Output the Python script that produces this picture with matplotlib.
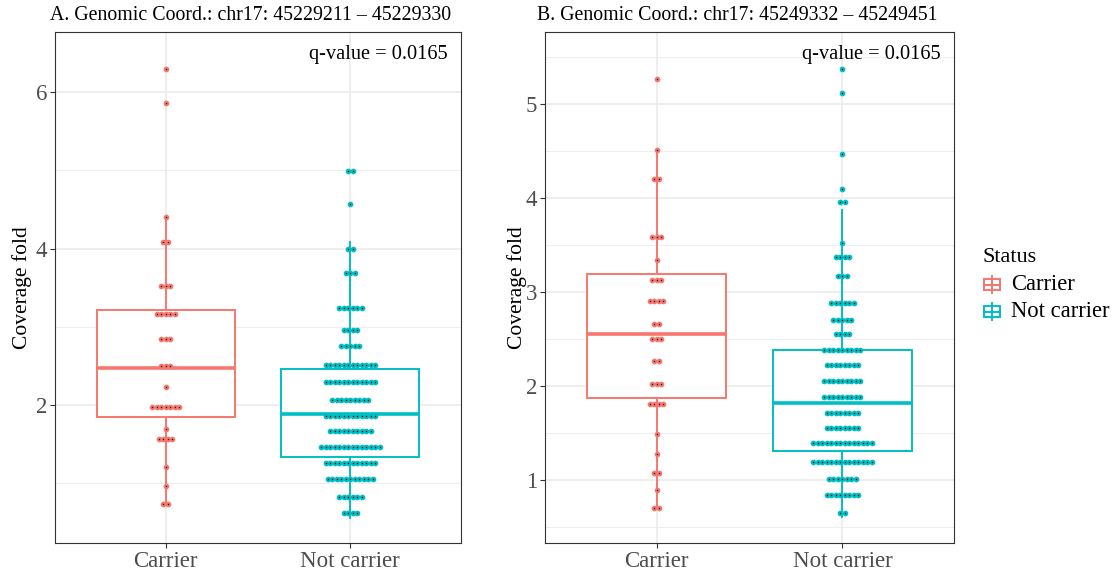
import numpy as np
import matplotlib
matplotlib.use("Agg")
import matplotlib.pyplot as plt
from matplotlib.patches import Rectangle

W, H = 1115, 572
DPI = 100
plt.rcParams['font.family'] = ['Liberation Serif', 'DejaVu Serif']

categories = ["Carrier", "Not carrier"]
colors = ["#F8766D", "#00BFC4"]
titles = ["A. Genomic Coord.: chr17: 45229211 \u2013 45229330",
          "B. Genomic Coord.: chr17: 45249332 \u2013 45249451"]
qvalues = ["q-value = 0.0165", "q-value = 0.0165"]

# Panel A dot rows (bin value, number of dots)
a_carrier_vals = [6.30, 5.86, 4.41, 4.08, 3.52, 3.17, 2.85, 2.50, 2.23, 1.97, 1.69, 1.56, 1.21, 0.97, 0.73]
a_carrier_counts = [1, 1, 1, 2, 3, 5, 3, 3, 1, 7, 1, 4, 1, 1, 2]
a_not_vals = [4.99, 4.57, 4.00, 3.69, 3.24, 2.96, 2.75, 2.51, 2.30, 2.06, 1.86, 1.67, 1.46, 1.26, 1.06, 0.83, 0.62]
a_not_counts = [2, 1, 2, 3, 6, 4, 5, 12, 12, 9, 12, 10, 14, 12, 11, 6, 4]

# Panel B dot rows
b_carrier_vals = [5.27, 4.51, 4.20, 3.59, 3.34, 3.13, 2.91, 2.66, 2.50, 2.27, 2.02, 1.81, 1.49, 1.28, 1.08, 0.89, 0.70]
b_carrier_counts = [1, 1, 2, 3, 1, 3, 4, 2, 3, 2, 3, 4, 1, 1, 2, 1, 2]
b_not_vals = [5.38, 5.12, 4.47, 4.10, 3.96, 3.52, 3.37, 3.17, 2.88, 2.70, 2.55, 2.38, 2.22, 2.05, 1.88,
              1.71, 1.55, 1.39, 1.19, 1.01, 0.84, 0.65]
b_not_counts = [1, 1, 1, 1, 2, 1, 4, 3, 6, 5, 4, 9, 8, 9, 9, 8, 8, 14, 14, 7, 8, 2]

# Box statistics: lower whisker, Q1, median, Q3, upper whisker
a_carrier_box = [0.73, 1.85, 2.47, 3.21, 4.41]
a_not_box = [0.56, 1.34, 1.88, 2.46, 4.08]
b_carrier_box = [0.70, 1.87, 2.55, 3.19, 4.51]
b_not_box = [0.61, 1.31, 1.82, 2.38, 3.88]

a_yticks = [2, 4, 6]
b_yticks = [1, 2, 3, 4, 5]

panels = [
    dict(rect=(55, 32, 461, 543), ylim=(0.236, 6.77), yticks=a_yticks,
         dots=[(a_carrier_vals, a_carrier_counts), (a_not_vals, a_not_counts)],
         boxes=[a_carrier_box, a_not_box], title=titles[0], q=qvalues[0],
         title_x=50, ylab_x=22),
    dict(rect=(545, 32, 954, 543), ylim=(0.33, 5.77), yticks=b_yticks,
         dots=[(b_carrier_vals, b_carrier_counts), (b_not_vals, b_not_counts)],
         boxes=[b_carrier_box, b_not_box], title=titles[1], q=qvalues[1],
         title_x=537, ylab_x=517),
]

fig = plt.figure(figsize=(W / DPI, H / DPI), dpi=DPI)
fig.patch.set_facecolor("white")

def px_rect(l, t, r, b):
    return [l / W, 1 - b / H, (r - l) / W, (b - t) / H]

for p in panels:
    l, t, r, b = p["rect"]
    ax = fig.add_axes(px_rect(l, t, r, b))
    ax.set_xlim(0.4, 2.6)
    ax.set_ylim(*p["ylim"])
    ax.set_axisbelow(True)
    # grid
    yt = np.array(p["yticks"], dtype=float)
    step = yt[1] - yt[0]
    minor = np.arange(yt[0] - step / 2, p["ylim"][1], step)
    minor = minor[(minor > p["ylim"][0]) & (minor < p["ylim"][1])]
    for m in minor:
        ax.axhline(m, color="#EBEBEB", lw=0.6, zorder=0)
    for m in yt:
        ax.axhline(m, color="#EBEBEB", lw=1.2, zorder=0)
    for xpos in [1, 2]:
        ax.axvline(xpos, color="#EBEBEB", lw=1.2, zorder=0)

    stats = []
    for s in p["boxes"]:
        stats.append(dict(whislo=s[0], q1=s[1], med=s[2], q3=s[3], whishi=s[4]))
    bp = ax.bxp(stats, positions=[1, 2], widths=0.75, patch_artist=True,
                showfliers=False, showcaps=False, manage_ticks=False)
    for i, c in enumerate(colors):
        bp["boxes"][i].set(facecolor="white", edgecolor=c, linewidth=1.4, zorder=2)
        bp["medians"][i].set(color=c, linewidth=2.6, zorder=2.5, solid_capstyle="butt")
        for w in bp["whiskers"][2 * i:2 * i + 2]:
            w.set(color=c, linewidth=1.4, zorder=1.9)

    # dots
    px_per_unit = (r - l) / 2.2
    spacing = 4.5 / px_per_unit
    for i, (vals, counts) in enumerate(p["dots"]):
        xs, ys = [], []
        for v, n in zip(vals, counts):
            offs = (np.arange(n) - (n - 1) / 2) * spacing
            xs.extend(i + 1 + offs)
            ys.extend([v] * n)
        ax.plot(xs, ys, linestyle="none", marker="o", markersize=2.6,
                markerfacecolor="black", markeredgecolor=colors[i],
                markeredgewidth=1.5, zorder=3)

    ax.set_xticks([1, 2])
    ax.set_xticklabels(categories)
    ax.set_yticks(p["yticks"])
    ax.tick_params(axis="both", colors="#333333", length=3.5, width=0.8,
                   labelsize=16.5, labelcolor="#4D4D4D", pad=2.0)
    for sp in ax.spines.values():
        sp.set_color("#333333")
        sp.set_linewidth(0.8)

    ax.text(0.967, 0.955, p["q"], transform=ax.transAxes, ha="right", va="center",
            fontsize=14.7, color="black")
    fig.text(p["title_x"] / W, 1 - 15 / H, p["title"], ha="left", va="center",
             fontsize=14.3, color="black")
    fig.text(p["ylab_x"] / W, 1 - ((t + b) / 2) / H, "Coverage fold", rotation=90,
             ha="center", va="center", fontsize=15.5, color="black")

# legend (drawn in pixel coordinates on an overlay axes)
lg = fig.add_axes([0, 0, 1, 1])
lg.set_xlim(0, W)
lg.set_ylim(H, 0)
lg.axis("off")
lg.text(983, 258, "Status", ha="left", va="center", fontsize=16)
for i, (name, c) in enumerate(zip(categories, colors)):
    yc = 284.5 + i * 27
    lg.plot([992, 992], [yc - 8.5, yc + 8.5], color=c, lw=1.4)
    lg.add_patch(Rectangle((984, yc - 5.5), 16, 11, facecolor="white", edgecolor=c, lw=1.4))
    lg.plot([984, 1000], [yc, yc], color=c, lw=1.4)
    lg.text(1011, yc, name, ha="left", va="center", fontsize=16.3)

fig.savefig("out.png", dpi=DPI, facecolor="white")
